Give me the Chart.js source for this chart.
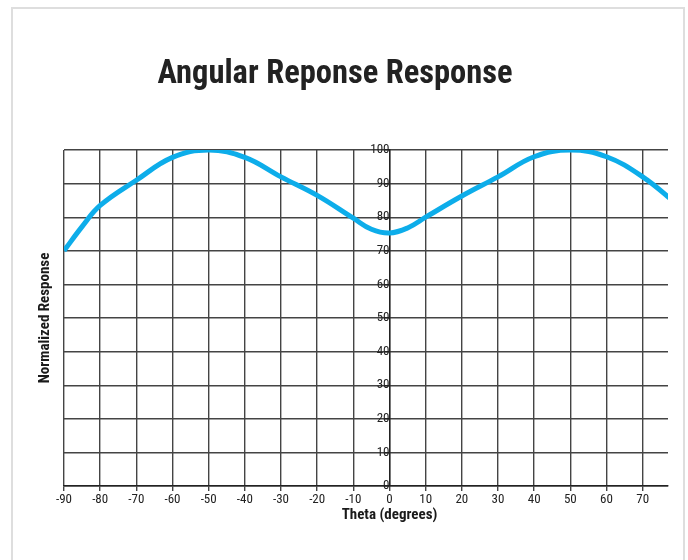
<!DOCTYPE html>
<html>
<head>
<meta charset="utf-8">
<script src="https://cdn.jsdelivr.net/npm/chart.js@4.4.1/dist/chart.umd.min.js"></script>
<style>
  html, body { margin: 0; padding: 0; background: #fff; width: 688px; height: 560px; overflow: hidden; }
  #frame { position: absolute; left: 11px; top: 7px; width: 674px; height: 600px; border: 2px solid #dedede; box-sizing: border-box; }
  #wrap { position: absolute; left: 0; top: 0; width: 688px; height: 560px; }
</style>
</head>
<body>
<div id="frame"></div>
<div id="wrap"><canvas id="c" width="688" height="560"></canvas></div>
<script>
const chartTitle = 'Angular Reponse Response';
const xTitle = 'Theta (degrees)';
const yTitle = 'Normalized Response';
const thetas = [-90, -85, -80, -70, -60, -50, -40, -30, -20, -10, -5, 0, 5, 10, 20, 30, 40, 50, 60, 70, 80];
const response = [70, 77.2, 83.5, 91, 97.8, 100, 97.8, 92, 86.5, 79.7, 76.4, 75.3, 76.8, 80, 86.3, 92, 98, 100, 98, 92, 83.4];
const xMin = -90, xMax = 77, xStep = 10;
const yMin = 0, yMax = 100, yStep = 10;

const FONT = "'Roboto Condensed', 'Open Sans Condensed', sans-serif";
const gridColor = '#444';

const xTitlePlugin = {
  id: 'xTitle',
  afterDraw(chart) {
    const ctx = chart.ctx;
    const x = chart.scales.x.getPixelForValue(0);
    ctx.save();
    ctx.font = 'bold 15px ' + FONT;
    ctx.fillStyle = '#1a1a1a';
    ctx.textAlign = 'center';
    ctx.textBaseline = 'middle';
    ctx.fillText(xTitle, x, 515);
    ctx.restore();
  }
};

new Chart(document.getElementById('c'), {
  type: 'line',
  data: {
    datasets: [{
      data: thetas.map((t, i) => ({ x: t, y: response[i] })),
      borderColor: '#0DADEA',
      borderWidth: 5,
      pointRadius: 0,
      tension: 0.4,
      fill: false
    }]
  },
  options: {
    responsive: false,
    animation: false,
    events: [],
    layout: { padding: { left: 2, right: 20, top: 0, bottom: 0 } },
    plugins: {
      legend: { display: false },
      tooltip: { enabled: false },
      title: {
        display: true,
        text: chartTitle,
        color: '#222',
        font: { family: FONT, size: 32.5, weight: 'bold', lineHeight: 1.2 },
        padding: { top: 55, bottom: 56 }
      }
    },
    scales: {
      x: {
        type: 'linear',
        position: 'bottom',
        min: xMin, max: xMax,
        afterFit(scale) { scale.height = 74; },
        ticks: { stepSize: xStep, includeBounds: false, color: '#222', padding: 1,
                 font: { family: FONT, size: 13 } },
        grid: { color: gridColor, lineWidth: 1.4, drawTicks: true, tickLength: 5, tickColor: gridColor },
        border: { display: true, color: '#222', width: 1.4 }
      },
      y: {
        type: 'linear',
        position: { x: 0 },
        min: yMin, max: yMax,
        ticks: { stepSize: yStep, color: '#222', padding: 0,
                 font: { family: FONT, size: 13 } },
        grid: { color: gridColor, lineWidth: 1.4, drawTicks: true, tickLength: 4, tickColor: '#222' },
        border: { display: true, color: '#222', width: 1.4 }
      },
      yTitleAxis: {
        type: 'linear',
        position: 'left',
        min: yMin, max: yMax,
        afterFit(scale) { scale.width = 62; },
        ticks: { display: false },
        grid: { display: false, drawTicks: false },
        border: { display: false },
        title: {
          display: true,
          text: yTitle,
          color: '#1a1a1a',
          font: { family: FONT, size: 15, weight: 'bold', lineHeight: 1.2 },
          padding: { top: 34, bottom: 0 }
        }
      }
    }
  },
  plugins: [xTitlePlugin]
});
</script>
</body>
</html>
